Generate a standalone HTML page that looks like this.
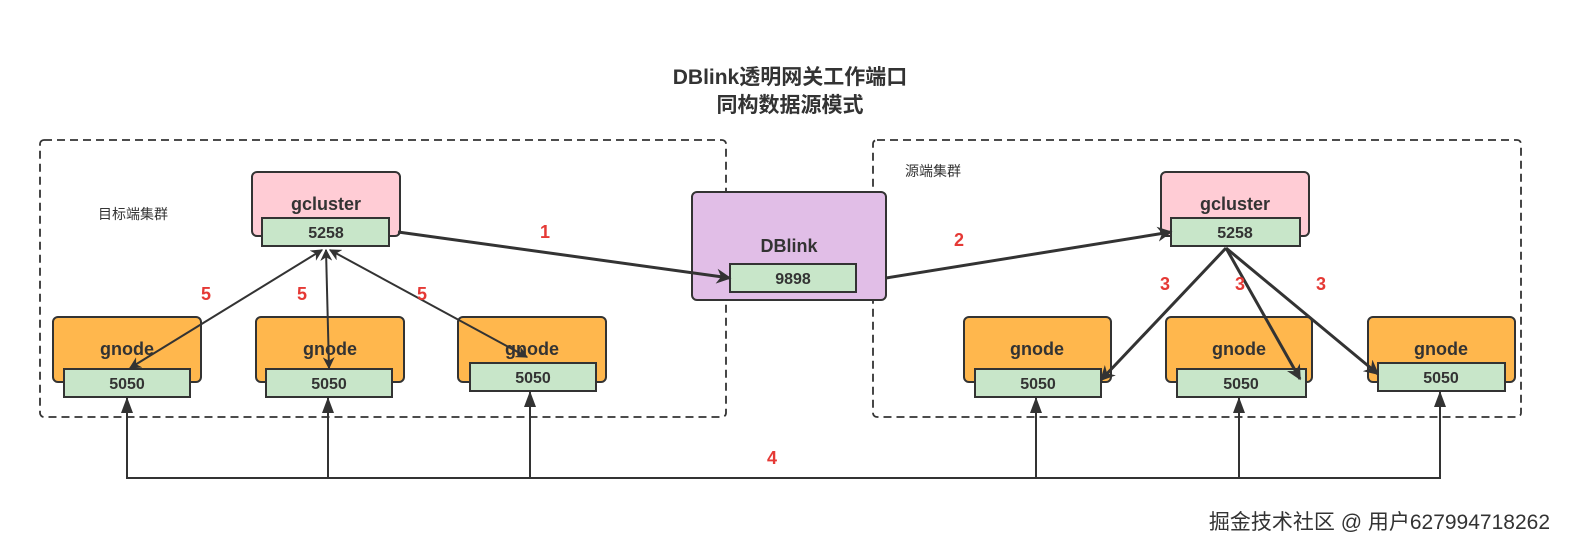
<!DOCTYPE html>
<html><head><meta charset="utf-8"><style>
body{margin:0;background:#fff;}
svg text{font-family:"Liberation Sans","Noto Sans CJK SC",sans-serif;}
</style></head><body>
<svg width="1579" height="554" viewBox="0 0 1579 554" xmlns="http://www.w3.org/2000/svg">
<defs>
<marker id="a" viewBox="0 0 10 10" refX="9" refY="5" markerWidth="5" markerHeight="5" orient="auto-start-reverse" markerUnits="strokeWidth"><path d="M0,0 L10,5 L0,10 L3,5z" fill="#333"/></marker>
<marker id="b" viewBox="0 0 10 10" refX="9" refY="5" markerWidth="6" markerHeight="6" orient="auto-start-reverse" markerUnits="strokeWidth"><path d="M0,0 L10,5 L0,10 L3,5z" fill="#333"/></marker>
</defs>
<rect width="1579" height="554" fill="#fff"/>
<text x="790" y="84" font-size="21" font-weight="bold" text-anchor="middle" fill="#333">DBlink透明网关工作端口</text>
<text x="790" y="112" font-size="21" font-weight="bold" text-anchor="middle" fill="#333">同构数据源模式</text>
<rect x="40" y="140" width="686" height="277" rx="4" fill="none" stroke="#333" stroke-width="1.8" stroke-dasharray="8,5"/>
<rect x="873" y="140" width="648" height="277" rx="4" fill="none" stroke="#333" stroke-width="1.8" stroke-dasharray="8,5"/>
<text x="98" y="219" font-size="14" fill="#333">目标端集群</text>
<text x="905" y="176" font-size="14" fill="#333">源端集群</text>
<g stroke="#333" stroke-width="2">
<rect x="252" y="172" width="148" height="64" rx="5" fill="#ffccd5"/>
<rect x="262" y="218" width="127" height="28" fill="#c8e6c9"/>
<rect x="1161" y="172" width="148" height="64" rx="5" fill="#ffccd5"/>
<rect x="1171" y="218" width="129" height="28" fill="#c8e6c9"/>
<rect x="692" y="192" width="194" height="108" rx="5" fill="#e1bee7"/>
<rect x="730" y="264" width="126" height="28" fill="#c8e6c9"/>
<rect x="53" y="317" width="148" height="65" rx="5" fill="#ffb74d"/>
<rect x="64" y="369" width="126" height="28" fill="#c8e6c9"/>
<rect x="256" y="317" width="148" height="65" rx="5" fill="#ffb74d"/>
<rect x="266" y="369" width="126" height="28" fill="#c8e6c9"/>
<rect x="458" y="317" width="148" height="65" rx="5" fill="#ffb74d"/>
<rect x="470" y="363" width="126" height="28" fill="#c8e6c9"/>
<rect x="964" y="317" width="147" height="65" rx="5" fill="#ffb74d"/>
<rect x="975" y="369" width="126" height="28" fill="#c8e6c9"/>
<rect x="1166" y="317" width="146" height="65" rx="5" fill="#ffb74d"/>
<rect x="1177" y="369" width="129" height="28" fill="#c8e6c9"/>
<rect x="1368" y="317" width="147" height="65" rx="5" fill="#ffb74d"/>
<rect x="1378" y="363" width="127" height="28" fill="#c8e6c9"/>
</g>
<g font-size="18" font-weight="bold" fill="#333" text-anchor="middle">
<text x="326" y="210">gcluster</text><text x="1235" y="210">gcluster</text>
<text x="789" y="252">DBlink</text>
<text x="127" y="355">gnode</text><text x="330" y="355">gnode</text><text x="532" y="355">gnode</text>
<text x="1037" y="355">gnode</text><text x="1239" y="355">gnode</text><text x="1441" y="355">gnode</text>
</g>
<g font-size="16" font-weight="bold" fill="#333" text-anchor="middle">
<text x="326" y="238">5258</text><text x="1235" y="238">5258</text><text x="793" y="284">9898</text>
<text x="127" y="389">5050</text><text x="329" y="389">5050</text><text x="533" y="383">5050</text>
<text x="1038" y="389">5050</text><text x="1241" y="389">5050</text><text x="1441" y="383">5050</text>
</g>
<g stroke="#333" fill="none">
<line x1="398" y1="232" x2="730" y2="278" stroke-width="3" marker-end="url(#a)"/>
<line x1="886" y1="278" x2="1171" y2="232" stroke-width="3" marker-end="url(#a)"/>
<line x1="1226" y1="248" x2="1101" y2="380" stroke-width="3" marker-end="url(#a)"/>
<line x1="1226" y1="248" x2="1300" y2="379" stroke-width="3" marker-end="url(#a)"/>
<line x1="1226" y1="248" x2="1378" y2="374" stroke-width="3" marker-end="url(#a)"/>
<line x1="322" y1="250" x2="130" y2="368" stroke-width="2" marker-start="url(#b)" marker-end="url(#b)"/>
<line x1="326" y1="250" x2="329" y2="368" stroke-width="2" marker-start="url(#b)" marker-end="url(#b)"/>
<line x1="330" y1="250" x2="527" y2="357" stroke-width="2" marker-start="url(#b)" marker-end="url(#b)"/>
<polyline points="127,398 127,478 1440,478 1440,392" stroke-width="2"/>
<line x1="328" y1="478" x2="328" y2="398" stroke-width="2"/>
<line x1="530" y1="478" x2="530" y2="392" stroke-width="2"/>
<line x1="1036" y1="478" x2="1036" y2="398" stroke-width="2"/>
<line x1="1239" y1="478" x2="1239" y2="398" stroke-width="2"/>
</g>
<g fill="#333">
<path d="M127,397 l-6,16 h12z"/><path d="M328,397 l-6,16 h12z"/><path d="M530,391 l-6,16 h12z"/>
<path d="M1036,397 l-6,16 h12z"/><path d="M1239,397 l-6,16 h12z"/><path d="M1440,391 l-6,16 h12z"/>
</g>
<g font-size="18" font-weight="bold" fill="#e53935" text-anchor="middle">
<text x="545" y="238">1</text><text x="959" y="246">2</text>
<text x="1165" y="290">3</text><text x="1240" y="290">3</text><text x="1321" y="290">3</text>
<text x="206" y="300">5</text><text x="302" y="300">5</text><text x="422" y="300">5</text>
<text x="772" y="464">4</text>
</g>
<text x="1550" y="529" font-size="21" fill="#333" text-anchor="end">掘金技术社区 @ 用户627994718262</text>
</svg>
</body></html>
